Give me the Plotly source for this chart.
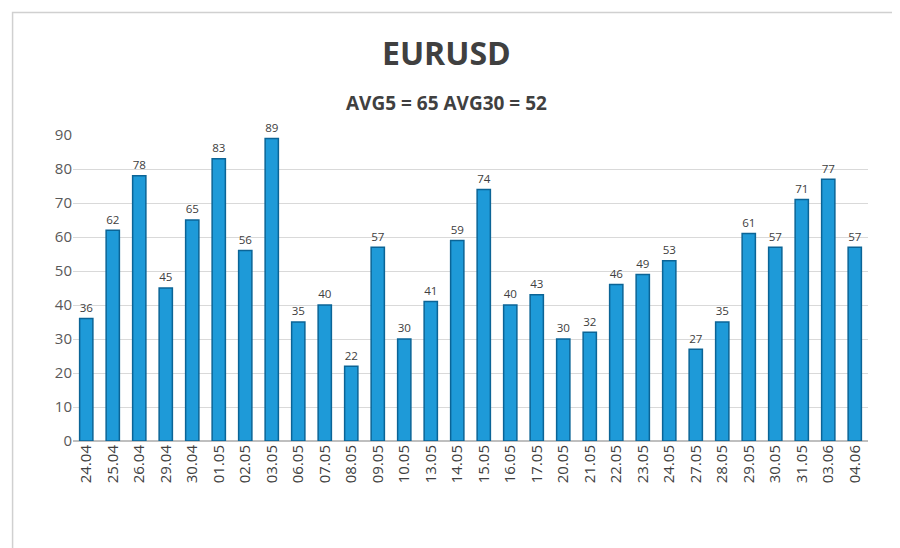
import plotly.graph_objects as go

dates = ["24.04", "25.04", "26.04", "29.04", "30.04", "01.05", "02.05", "03.05",
         "06.05", "07.05", "08.05", "09.05", "10.05", "13.05", "14.05", "15.05",
         "16.05", "17.05", "20.05", "21.05", "22.05", "23.05", "24.05", "27.05",
         "28.05", "29.05", "30.05", "31.05", "03.06", "04.06"]
values = [36, 62, 78, 45, 65, 83, 56, 89, 35, 40, 22, 57, 30, 41, 59, 74,
          40, 43, 30, 32, 46, 49, 53, 27, 35, 61, 57, 71, 77, 57]

fig = go.Figure()
fig.add_trace(go.Bar(
    x=dates, y=values,
    text=[str(v) for v in values], textposition="outside",
    textfont=dict(size=16, color="#404040"),
    marker=dict(color="#1e9ad8", line=dict(color="#0b6496", width=1.5)),
    width=0.5, cliponaxis=False,
))

fig.update_layout(
    width=900, height=548,
    paper_bgcolor="white", plot_bgcolor="white",
    font=dict(family="Open Sans, Arial, sans-serif", color="#595959"),
    margin=dict(l=65, r=40, t=127, b=115),
    showlegend=False,
    bargap=0.5,
    xaxis=dict(tickangle=-90, tickfont=dict(size=15, color="#404040"),
               showline=False, ticks=""),
    yaxis=dict(range=[0, 90], dtick=10, tickfont=dict(size=15, color="#595959"),
               showgrid=True, gridcolor="#d9d9d9", zeroline=True,
               zerolinecolor="#bfbfbf"),
    annotations=[
        dict(text="<b>EURUSD</b>", xref="paper", yref="paper", x=0.47, y=1.345,
             showarrow=False, font=dict(size=32, color="#404040")),
        dict(text="<b>AVG5 = 65 AVG30 = 52</b>", xref="paper", yref="paper",
             x=0.47, y=1.155, showarrow=False, font=dict(size=19, color="#404040")),
    ],
    shapes=[dict(type="rect", xref="paper", yref="paper", x0=-0.076, x1=1.046,
                 y0=-0.363, y1=1.40, line=dict(color="#d0d0d0", width=1.5))],
)

fig.write_html("out.html")
